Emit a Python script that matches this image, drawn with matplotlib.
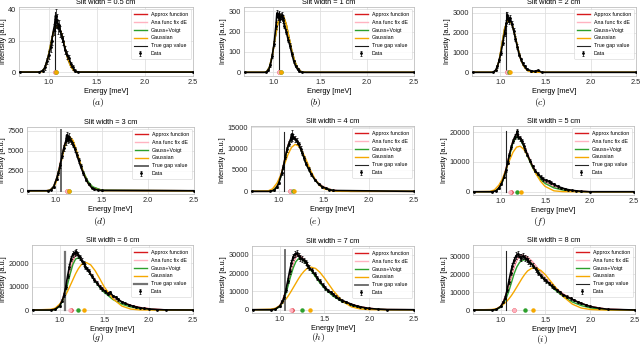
import matplotlib
matplotlib.use("Agg")
import matplotlib.pyplot as plt

# ---- values ----
titles = ["Slit width = 0.5 cm", "Slit width = 1 cm", "Slit width = 2 cm",
          "Slit width = 3 cm", "Slit width = 4 cm", "Slit width = 5 cm",
          "Slit width = 6 cm", "Slit width = 7 cm", "Slit width = 8 cm"]
captions = ["$(a)$", "$(b)$", "$(c)$", "$(d)$", "$(e)$", "$(f)$", "$(g)$", "$(h)$", "$(i)$"]

gap_energy = 1.06
gap_top = [38, 295, 3050, 7600, 14000, 20500, 25000, 32500, 33000]

peak_approx = [1.06, 1.06, 1.08, 1.12, 1.12, 1.12, 1.13, 1.14, 1.15]
peak_ana = [1.06, 1.06, 1.08, 1.12, 1.12, 1.11, 1.12, 1.13, 1.15]
peak_gv = [1.08, 1.08, 1.10, 1.14, 1.16, 1.19, 1.21, 1.25, 1.27]
peak_gauss = [1.08, 1.08, 1.11, 1.14, 1.17, 1.23, 1.28, 1.34, 1.36]

# fitted curves
grid_a = [0.70, 0.90, 0.93, 0.96, 0.99, 1.02, 1.05, 1.08, 1.11, 1.14, 1.17, 1.20, 1.23, 1.26, 1.30, 2.50]
grid_b = [0.70, 0.90, 0.93, 0.96, 0.99, 1.02, 1.05, 1.08, 1.11, 1.14, 1.17, 1.20, 1.23, 1.26, 1.30, 1.35, 2.50]
grid_c = [0.70, 0.90, 0.93, 0.96, 0.99, 1.02, 1.05, 1.08, 1.11, 1.14, 1.17, 1.20, 1.23, 1.26, 1.30, 1.35, 1.40, 2.50]
grid_d = [0.70, 0.90, 0.94, 0.98, 1.01, 1.04, 1.07, 1.10, 1.13, 1.16, 1.19, 1.22, 1.26, 1.30, 1.35, 1.40, 1.50, 2.50]
grid_ef = [0.70, 0.88, 0.93, 0.98, 1.02, 1.06, 1.10, 1.14, 1.18, 1.22, 1.26, 1.30, 1.35, 1.40, 1.45, 1.50,
           1.60, 1.70, 1.80, 1.90, 2.00, 2.50]
grid_ghi = [0.70, 0.90, 0.95, 1.00, 1.03, 1.06, 1.09, 1.12, 1.15, 1.18, 1.21, 1.24, 1.27, 1.30, 1.35, 1.40,
            1.45, 1.50, 1.60, 1.70, 1.80, 1.90, 2.00, 2.10, 2.20, 2.50]
curve_x = [grid_a, grid_b, grid_c, grid_d, grid_ef, grid_ef, grid_ghi, grid_ghi, grid_ghi]

approx_y = [
    [0, 0, 0.5, 3, 9, 18, 26, 29.5, 28, 22.5, 15, 8, 3.5, 1, 0, 0],
    [0, 0, 3, 25, 80, 165, 240, 280, 275, 235, 170, 105, 55, 22, 3, 0, 0],
    [0, 0, 10, 150, 600, 1400, 2200, 2600, 2620, 2300, 1750, 1150, 650, 330, 100, 20, 0, 0],
    [0, 0, 80, 600, 1500, 2900, 4500, 5900, 6550, 6600, 6000, 5000, 3600, 2300, 1100, 450, 60, 0],
    [0, 0, 200, 1300, 3500, 7000, 10700, 12700, 12500, 11000, 9000, 6600, 4500, 2800, 1700, 1000, 250, 40, 0, 0, 0, 0],
    [0, 0, 200, 1300, 3600, 7500, 12500, 17000, 19100, 18200, 15800, 12800, 9300, 6600, 4700, 3400, 1800, 850, 350, 120, 0, 0],
    [0, 0, 300, 1800, 4200, 7800, 12500, 17500, 21500, 23500, 23300, 21800, 20000, 18300, 15500, 12800, 10500, 8600,
     5500, 3400, 2000, 1100, 600, 250, 80, 0],
    [0, 0, 300, 2000, 4800, 9000, 14500, 20500, 25500, 29300, 30000, 29000, 27500, 25500, 22000, 18500, 15000, 12300,
     8000, 5000, 3000, 1600, 800, 300, 80, 0],
    [0, 0, 300, 2000, 4800, 8800, 13800, 19500, 24500, 28300, 30300, 30800, 30500, 29600, 27300, 24200, 20700, 17500,
     12800, 8900, 5900, 3700, 2100, 1100, 400, 0],
]
ana_y = [
    [0, 0, 0.5, 3, 9, 18, 26, 29.5, 28, 22.5, 15, 8, 3.5, 1, 0, 0],
    [0, 0, 3, 25, 80, 165, 240, 280, 275, 235, 170, 105, 55, 22, 3, 0, 0],
    [0, 0, 10, 150, 600, 1400, 2200, 2600, 2620, 2300, 1750, 1150, 650, 330, 100, 20, 0, 0],
    [0, 0, 80, 600, 1500, 2900, 4500, 5900, 6550, 6600, 6000, 5000, 3600, 2300, 1100, 450, 60, 0],
    [0, 0, 200, 1300, 3500, 7000, 10700, 12800, 12600, 11000, 9000, 6600, 4500, 2800, 1700, 1000, 250, 40, 0, 0, 0, 0],
    [0, 0, 200, 1300, 3600, 7600, 12700, 17300, 19400, 18300, 15800, 12800, 9300, 6600, 4700, 3400, 1800, 850, 350, 120, 0, 0],
    [0, 0, 300, 1900, 4400, 8100, 12900, 17900, 21800, 23700, 23400, 21900, 20000, 18300, 15500, 12800, 10500, 8600,
     5500, 3400, 2000, 1100, 600, 250, 80, 0],
    [0, 0, 300, 2100, 5000, 9300, 14900, 20900, 25800, 29400, 30000, 29000, 27500, 25500, 22000, 18500, 15000, 12300,
     8000, 5000, 3000, 1600, 800, 300, 80, 0],
    [0, 0, 300, 2100, 5000, 9100, 14200, 19900, 24800, 28500, 30400, 30800, 30500, 29600, 27300, 24200, 20700, 17500,
     12800, 8900, 5900, 3700, 2100, 1100, 400, 0],
]
gv_y = [
    [0, 0, 0.5, 3, 9, 18, 26, 29.5, 28, 22.5, 15, 8, 3.5, 1, 0, 0],
    [0, 0, 3, 25, 80, 165, 240, 280, 275, 235, 170, 105, 55, 22, 3, 0, 0],
    [0, 0, 10, 150, 600, 1400, 2200, 2600, 2620, 2300, 1750, 1150, 650, 330, 100, 20, 0, 0],
    [0, 0, 70, 550, 1450, 2800, 4400, 5800, 6500, 6550, 6000, 5050, 3700, 2400, 1200, 500, 70, 0],
    [0, 0, 150, 1200, 3300, 6800, 10500, 12600, 12400, 10900, 8900, 6500, 4400, 2700, 1600, 900, 200, 30, 0, 0, 0, 0],
    [0, 0, 150, 1100, 3200, 7000, 12000, 16500, 18500, 17700, 15300, 12200, 8700, 6000, 4100, 2800, 1300, 550, 180, 40, 0, 0],
    [0, 0, 200, 1500, 3600, 6800, 11000, 15500, 19500, 21800, 22300, 21500, 20000, 18300, 15200, 12300, 9700, 7600,
     4500, 2500, 1300, 650, 300, 100, 0, 0],
    [0, 0, 200, 1600, 3800, 7500, 12500, 18000, 22800, 26300, 28000, 28000, 26800, 25000, 21500, 18000, 14600, 11700,
     7300, 4300, 2400, 1200, 550, 200, 50, 0],
    [0, 0, 200, 1500, 3500, 6500, 10500, 15500, 20500, 24300, 26800, 28000, 28300, 27800, 25800, 23000, 19800, 16800,
     11600, 7500, 4500, 2500, 1200, 500, 100, 0],
]
gauss_y = [
    [0, 0, 0.3, 2.5, 8.5, 17.5, 26, 29.5, 28.5, 23, 15, 8, 3.5, 1, 0, 0],
    [0, 0, 2, 22, 78, 165, 242, 282, 277, 236, 170, 103, 52, 20, 2, 0, 0],
    [0, 0, 8, 140, 590, 1400, 2200, 2610, 2630, 2310, 1750, 1140, 640, 320, 90, 15, 0, 0],
    [0, 0, 50, 400, 1200, 2500, 4100, 5600, 6500, 6700, 6300, 5300, 3800, 2300, 950, 300, 10, 0],
    [0, 100, 600, 2000, 3800, 6200, 8600, 10300, 11000, 10600, 9300, 7500, 5000, 2900, 1400, 600, 60, 0, 0, 0, 0, 0],
    [0, 100, 600, 2200, 4300, 7300, 10500, 13300, 15000, 15300, 14300, 12300, 9000, 5900, 3500, 1800, 300, 30, 0, 0, 0, 0],
    [0, 300, 800, 2500, 4000, 5800, 8000, 10500, 13000, 15500, 17600, 19200, 20200, 20300, 19300, 16800, 13500, 10000,
     4800, 1700, 400, 50, 0, 0, 0, 0],
    [0, 300, 800, 2200, 3600, 5200, 7200, 9500, 12000, 14500, 17000, 19200, 21000, 22400, 23300, 22600, 20400, 17300,
     10300, 4700, 1600, 400, 50, 0, 0, 0],
    [0, 300, 700, 2000, 3200, 4500, 6200, 8200, 10500, 13000, 15500, 18000, 20200, 22000, 23600, 23600, 22200, 19800,
     13500, 7500, 3300, 1100, 300, 50, 0, 0],
]

# measured data
energy_wide = [0.70, 0.90, 0.95, 1.00, 1.03, 1.05, 1.07, 1.09, 1.11, 1.13, 1.15, 1.17, 1.19, 1.21, 1.23,
               1.25, 1.27, 1.29, 1.31, 1.33, 1.36, 1.39, 1.42, 1.45, 1.48, 1.51, 1.54, 1.57, 1.60, 1.63,
               1.66, 1.70, 1.74, 1.78, 1.82, 1.86, 1.90, 1.95, 2.00, 2.10, 2.20, 2.50]
data_x = [
    [0.70, 0.90, 0.94, 0.96, 0.98, 1.00, 1.02, 1.03, 1.05, 1.06, 1.07, 1.08, 1.09, 1.10, 1.11, 1.12, 1.14,
     1.15, 1.17, 1.19, 1.21, 1.23, 1.25, 1.27, 1.30, 2.50],
    [0.70, 0.92, 0.95, 0.97, 0.99, 1.01, 1.03, 1.04, 1.05, 1.06, 1.07, 1.08, 1.09, 1.10, 1.11, 1.12, 1.14,
     1.16, 1.18, 1.20, 1.22, 1.24, 1.26, 1.28, 1.31, 2.50],
    [0.70, 0.92, 0.95, 0.97, 0.99, 1.01, 1.03, 1.05, 1.07, 1.08, 1.09, 1.10, 1.11, 1.13, 1.15, 1.17, 1.19,
     1.21, 1.23, 1.25, 1.27, 1.30, 1.34, 1.38, 1.42, 1.46, 2.50],
    [0.70, 0.92, 0.95, 0.98, 1.01, 1.03, 1.05, 1.07, 1.09, 1.11, 1.12, 1.13, 1.14, 1.15, 1.17, 1.19, 1.21,
     1.23, 1.25, 1.27, 1.30, 1.33, 1.36, 1.39, 1.42, 1.46, 1.50, 2.50],
    [0.70, 0.90, 0.95, 0.98, 1.00, 1.03, 1.05, 1.07, 1.09, 1.11, 1.13, 1.14, 1.15, 1.16, 1.18, 1.20, 1.22,
     1.24, 1.26, 1.28, 1.30, 1.33, 1.36, 1.40, 1.44, 1.48, 1.52, 1.56, 1.60, 2.50],
    [0.70, 0.90, 0.95, 0.98, 1.01, 1.04, 1.06, 1.08, 1.10, 1.12, 1.14, 1.16, 1.18, 1.19, 1.20, 1.22, 1.24,
     1.26, 1.28, 1.30, 1.33, 1.36, 1.39, 1.42, 1.45, 1.48, 1.51, 1.54, 1.57, 1.60, 1.64, 1.68, 1.72, 1.76,
     1.80, 1.85, 1.90, 2.00, 2.50],
    energy_wide, energy_wide, energy_wide,
]
data_y = [
    [0, 0, 1, 3, 7, 11, 16, 20, 27, 30, 36, 32, 33, 28, 30, 26, 22, 20, 14, 11, 9, 5, 3, 1, 0, 0],
    [0, 0, 10, 35, 80, 140, 230, 290, 270, 285, 260, 275, 280, 265, 255, 230, 200, 160, 130, 90, 55, 30, 15, 5, 0, 0],
    [0, 0, 100, 300, 600, 1000, 1500, 2000, 2500, 2900, 2700, 2600, 2750, 2450, 2100, 1700, 1300, 900, 650, 450,
     300, 150, 80, 50, 100, 0, 0],
    [0, 0, 100, 500, 1500, 2200, 3200, 4400, 5400, 6200, 7000, 6400, 6800, 6500, 6200, 5800, 5200, 4500, 3800,
     3100, 2200, 1400, 800, 400, 200, 80, 30, 0],
    [0, 0, 300, 1100, 2000, 4200, 5800, 8000, 9800, 11200, 12200, 13400, 12500, 12800, 12300, 11800, 11000,
     10000, 9000, 7800, 6500, 5200, 4000, 2700, 1700, 1100, 700, 400, 200, 0],
    [0, 0, 300, 1200, 2700, 5000, 7200, 9800, 12500, 15000, 17000, 18500, 19500, 20300, 18500, 18000, 17000,
     15500, 14000, 12500, 10500, 8500, 7000, 6000, 5000, 4200, 3800, 3500, 3000, 2500, 1800, 1400, 1000, 700,
     500, 300, 150, 0, 0],
    [0, 0, 300, 1800, 4000, 6500, 10000, 14500, 18500, 22000, 24000, 24500, 25000, 23500, 22500, 21000, 20000,
     18500, 17500, 16500, 14500, 13000, 11500, 10000, 9000, 8000, 7000, 7500, 6000, 5500, 4500, 3500, 2800,
     2200, 1700, 1300, 1000, 700, 450, 200, 50, 0],
    [0, 0, 300, 2000, 4500, 7000, 11000, 16000, 21000, 25500, 29000, 30500, 31000, 29500, 28500, 28000, 27000,
     26000, 24500, 23000, 21500, 19500, 17500, 15500, 13500, 12000, 10500, 9500, 8500, 7000, 6000, 5000, 4200,
     3400, 2700, 2000, 1600, 1100, 700, 300, 80, 0],
    [0, 0, 300, 2000, 4500, 7000, 11000, 16000, 21000, 25000, 28000, 30500, 31500, 30000, 29500, 30500, 29500,
     28500, 27500, 26500, 25000, 23000, 21000, 19000, 17500, 16500, 15000, 13500, 12500, 11000, 10000, 8500,
     7500, 6500, 5500, 4500, 3800, 2800, 2000, 1000, 400, 0],
]
data_err = [
    [0, 0, 1, 1.5, 2, 2.5, 3, 3, 3.5, 4, 4, 4, 4, 3.5, 3.5, 3.5, 3, 3, 2.5, 2.5, 2, 1.5, 1.5, 1, 0, 0],
    [0, 0, 5, 8, 10, 12, 15, 15, 15, 15, 15, 15, 15, 15, 14, 14, 13, 12, 12, 10, 8, 6, 4, 2, 0, 0],
    [0, 0, 40, 60, 80, 100, 120, 140, 160, 170, 170, 170, 170, 160, 150, 140, 120, 100, 80, 70, 60, 50, 40, 30,
     40, 0, 0],
    [0, 0, 60, 120, 200, 250, 300, 350, 380, 400, 420, 420, 420, 400, 390, 370, 350, 320, 300, 270, 230, 180,
     140, 100, 70, 40, 20, 0],
    [0, 0, 150, 250, 300, 400, 450, 500, 550, 600, 620, 900, 650, 650, 640, 620, 600, 560, 530, 490, 440, 400,
     350, 300, 250, 200, 150, 100, 80, 0],
    [0, 0, 200, 300, 400, 500, 550, 600, 650, 700, 750, 800, 800, 900, 800, 800, 750, 750, 700, 650, 600, 550,
     500, 500, 700, 600, 600, 500, 500, 450, 400, 350, 300, 250, 200, 150, 100, 0, 0],
    [0, 0, 200, 400, 600, 800, 900, 1000, 1100, 1200, 1300, 1300, 1300, 1300, 1200, 1200, 1100, 1100, 1000,
     1000, 900, 900, 800, 800, 700, 700, 700, 800, 600, 600, 500, 500, 400, 400, 300, 300, 250, 200, 150, 100,
     50, 0],
    [0, 0, 200, 400, 700, 900, 1100, 1300, 1500, 1600, 1700, 1800, 1800, 1700, 1700, 1600, 1600, 1500, 1500,
     1400, 1300, 1300, 1200, 1100, 1100, 1000, 1000, 900, 900, 800, 800, 700, 600, 500, 400, 400, 300, 250,
     200, 100, 50, 0],
    [0, 0, 200, 400, 700, 900, 1100, 1300, 1500, 1700, 1800, 1900, 1900, 1800, 1800, 1800, 1700, 1700, 1600,
     1600, 1500, 1400, 1300, 1200, 1200, 1100, 1000, 1000, 900, 900, 800, 700, 700, 600, 500, 500, 400, 300,
     250, 150, 80, 0],
]

# ---- layout / style ----
W, H = 640, 346
# (left, right, top, bottom) in pixels
boxes = [(19, 193, 7, 76), (244, 414, 7, 76), (472, 636, 7, 76),
         (27, 194, 127, 194), (251, 414, 126, 194), (473, 634, 126, 195),
         (32, 193, 245, 314), (252, 414, 246, 313), (473, 635, 245, 314)]
caption_pos = [(98, 103), (315, 103), (540, 103),
               (100, 222), (315, 222), (540, 222),
               (98, 338), (318, 338), (542, 340)]
ylims = [(-2.5, 41.5), (-18, 321), (-186, 3300), (-410, 8000), (-620, 15300),
         (-1100, 22100), (-1700, 27800), (-1800, 34900), (-2250, 36600)]
yticks = [[0, 20, 40], [0, 100, 200, 300], [0, 1000, 2000, 3000], [0, 2500, 5000, 7500],
          [0, 5000, 10000, 15000], [0, 10000, 20000], [0, 10000, 20000],
          [0, 10000, 20000, 30000], [0, 10000, 20000, 30000]]
gap_color = ["0.1", "0.1", "0.15", "0.4", "0.15", "0.15", "0.45", "0.4", "0.15"]
gap_lw = [0.8, 0.8, 0.8, 1.4, 0.8, 0.8, 1.6, 1.3, 0.8]

RED, PINK, GREEN, ORANGE = "#d7191c", "#ffb3c1", "#2ca02c", "#f5a800"

plt.rcParams["font.family"] = ["Liberation Sans", "DejaVu Sans"]
plt.rcParams["font.size"] = 5.3
plt.rcParams["mathtext.fontset"] = "cm"

fig = plt.figure(figsize=(W / 100, H / 100), dpi=100)

for i in range(9):
    l, r, t, b = boxes[i]
    ax = fig.add_axes([l / W, 1 - b / H, (r - l) / W, (b - t) / H])
    ax.set_facecolor("white")
    ax.grid(True, color="0.88", lw=0.6)
    ax.set_axisbelow(True)
    for s in ax.spines.values():
        s.set_color("0.75")
        s.set_linewidth(0.6)
    ax.tick_params(length=0, pad=2, labelsize=5.3, colors="0.15")

    ax.plot(curve_x[i], approx_y[i], color=RED, lw=1.0, label="Approx function")
    ax.plot(curve_x[i], ana_y[i], color=PINK, lw=1.0, label="Ana func fix dE")
    ax.plot(curve_x[i], gv_y[i], color=GREEN, lw=1.0, label="Gauss+Voigt")
    ax.plot(curve_x[i], gauss_y[i], color=ORANGE, lw=1.0, label="Gaussian")
    ax.plot([gap_energy, gap_energy], [0, gap_top[i]], color=gap_color[i], lw=gap_lw[i],
            label="True gap value")
    ax.plot(data_x[i], data_y[i], "-", color="k", lw=1.2, zorder=3)
    ax.errorbar(data_x[i], data_y[i], yerr=data_err[i], fmt=".", color="k", ms=2,
                elinewidth=0.5, capsize=0.8, capthick=0.5, zorder=4, label="Data")

    ax.plot([peak_approx[i]], [0], "o", color=RED, ms=2.2, zorder=5)
    ax.plot([peak_ana[i]], [0], "o", color=PINK, ms=2.2, zorder=5)
    ax.plot([peak_gv[i]], [0], "o", color=GREEN, ms=2.2, zorder=5)
    ax.plot([peak_gauss[i]], [0], "o", color=ORANGE, ms=2.2, zorder=5)

    ax.set_xlim(0.69, 2.5)
    ax.set_ylim(ylims[i])
    ax.set_xticks([1.0, 1.5, 2.0, 2.5])
    ax.set_yticks(yticks[i])
    ax.set_title(titles[i], fontsize=5.3, pad=2)
    ax.set_xlabel("Energy [meV]", fontsize=5.3, labelpad=1.5)
    ax.set_ylabel("Intensity [a.u.]", fontsize=5.3, labelpad=1.0)

    h, lab = ax.get_legend_handles_labels()
    leg = ax.legend(h, lab, loc="upper right", fontsize=3.8, frameon=True, framealpha=0.85,
                    edgecolor="0.8", fancybox=True, borderpad=0.5, labelspacing=0.55,
                    handlelength=2.4, borderaxespad=0.4)
    leg.get_frame().set_linewidth(0.4)

    cx, cy = caption_pos[i]
    fig.text(cx / W, 1 - cy / H, captions[i], ha="center", va="center", fontsize=7)

fig.savefig("out.png", dpi=100)
